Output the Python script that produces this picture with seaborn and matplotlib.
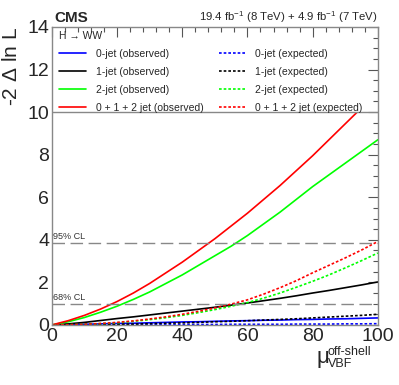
import matplotlib.pyplot as plt
import matplotlib.patches as mpatches
import seaborn as sns
from matplotlib.ticker import MultipleLocator

# --- values ---
mu = [0, 5, 10, 15, 20, 25, 30, 35, 40, 45, 50, 55, 60, 65, 70, 75, 80, 85, 90, 95, 100]

obs_0jet = [0, 0.02, 0.03, 0.05, 0.07, 0.08, 0.10, 0.12, 0.14, 0.15, 0.17,
            0.19, 0.20, 0.22, 0.23, 0.25, 0.26, 0.28, 0.29, 0.31, 0.33]
obs_1jet = [0, 0.05, 0.12, 0.21, 0.30, 0.38, 0.47, 0.56, 0.65, 0.74, 0.83,
            0.93, 1.03, 1.14, 1.25, 1.37, 1.50, 1.62, 1.75, 1.88, 2.02]
obs_2jet = [0, 0.15, 0.35, 0.60, 0.88, 1.20, 1.55, 1.95, 2.35, 2.80, 3.25,
            3.70, 4.20, 4.75, 5.30, 5.90, 6.50, 7.05, 7.60, 8.15, 8.70]
obs_all = [0, 0.20, 0.45, 0.75, 1.10, 1.50, 1.95, 2.45, 2.95, 3.50, 4.05,
           4.65, 5.25, 5.90, 6.55, 7.25, 7.95, 8.70, 9.45, 10.2, 11.0]

exp_0jet = [0, 0.00, 0.00, 0.01, 0.01, 0.01, 0.01, 0.02, 0.02, 0.02, 0.02,
            0.03, 0.03, 0.03, 0.03, 0.04, 0.04, 0.04, 0.05, 0.05, 0.06]
exp_1jet = [0, 0.00, 0.01, 0.02, 0.03, 0.04, 0.06, 0.08, 0.10, 0.12, 0.15,
            0.17, 0.20, 0.23, 0.26, 0.29, 0.33, 0.37, 0.41, 0.45, 0.50]
exp_2jet = [0, 0.01, 0.03, 0.06, 0.10, 0.17, 0.25, 0.34, 0.45, 0.58, 0.72,
            0.88, 1.05, 1.26, 1.50, 1.77, 2.05, 2.35, 2.68, 3.02, 3.38]
exp_all = [0, 0.01, 0.03, 0.07, 0.12, 0.19, 0.28, 0.38, 0.50, 0.64, 0.80,
           0.98, 1.18, 1.45, 1.75, 2.08, 2.45, 2.80, 3.15, 3.52, 3.92]

labels_obs = ['0-jet (observed)', '1-jet (observed)', '2-jet (observed)', '0 + 1 + 2 jet (observed)']
labels_exp = ['0-jet (expected)', '1-jet (expected)', '2-jet (expected)', '0 + 1 + 2 jet (expected)']
colors = ['#0000ff', '#000000', '#00ff00', '#ff0000']

sns.set_theme(style="white")
plt.rcParams['font.family'] = ['Liberation Sans', 'DejaVu Sans']
plt.rcParams['mathtext.fontset'] = 'custom'
plt.rcParams['mathtext.rm'] = 'Liberation Sans'

fig = plt.figure(figsize=(3.99, 3.85), dpi=100)
ax = fig.add_axes([0.130, 0.156, 0.817, 0.774])

for y, lab, c in zip([obs_0jet, obs_1jet, obs_2jet, obs_all], labels_obs, colors):
    sns.lineplot(x=mu, y=y, ax=ax, color=c, lw=1.2, label=lab)
for y, lab, c in zip([exp_0jet, exp_1jet, exp_2jet, exp_all], labels_exp, colors):
    sns.lineplot(x=mu, y=y, ax=ax, color=c, lw=1.2, label=lab)
for line in ax.get_lines()[4:8]:
    line.set_dashes((1.6, 1.2))

# curves stop at the legend area (above 10)
clip = mpatches.Rectangle((0, 0), 100, 10, transform=ax.transData)
for line in ax.get_lines()[:8]:
    line.set_clip_path(clip)

ax.axhline(10, color='#888888', lw=1.0)
for lvl, txt in [(1.0, '68% CL'), (3.84, '95% CL')]:
    ax.axhline(lvl, color='#888888', lw=1.0, dashes=(9, 4))
    ax.text(0.5, lvl + 0.1, txt, fontsize=6.5, color='#333333', ha='left', va='bottom')

ax.set_xlim(0, 100)
ax.set_ylim(0, 14)
ax.xaxis.set_major_locator(MultipleLocator(20))
ax.xaxis.set_minor_locator(MultipleLocator(4))
ax.yaxis.set_major_locator(MultipleLocator(2))
ax.yaxis.set_minor_locator(MultipleLocator(0.5))
ax.tick_params(which='both', direction='in', top=True, right=True, color='#555555', labelsize=14, pad=2)
ax.tick_params(which='major', length=7, width=0.8)
ax.tick_params(which='minor', length=3.5, width=0.8)
for s in ax.spines.values():
    s.set_color('#888888')
    s.set_linewidth(1.0)

fig.text(0.03, 0.930, '-2 $\\Delta$ ln L', fontsize=15, rotation=90, ha='center', va='top')

# x label: mu with super/subscripts
fig.text(0.793, 0.045, '\u03bc', fontsize=16, ha='left', va='bottom')
fig.text(0.822, 0.078, 'off-shell', fontsize=9, ha='left', va='baseline')
fig.text(0.822, 0.046, 'VBF', fontsize=9, ha='left', va='baseline')

fig.text(0.137, 0.935, 'CMS', fontsize=11, fontweight='bold', ha='left', va='bottom')
fig.text(0.947, 0.935, '19.4 fb$^{-1}$ (8 TeV) + 4.9 fb$^{-1}$ (7 TeV)', fontsize=8.2,
         ha='right', va='bottom')

leg = ax.legend(loc='upper left', bbox_to_anchor=(0.0, 1.01), ncol=2, frameon=False,
                fontsize=7.5, title='H \u2192 WW', title_fontsize=7.5, alignment='left',
                handlelength=2.6, handletextpad=0.9, labelspacing=0.75, columnspacing=1.5,
                borderaxespad=0.3)

fig.savefig('out.png', dpi=100)
